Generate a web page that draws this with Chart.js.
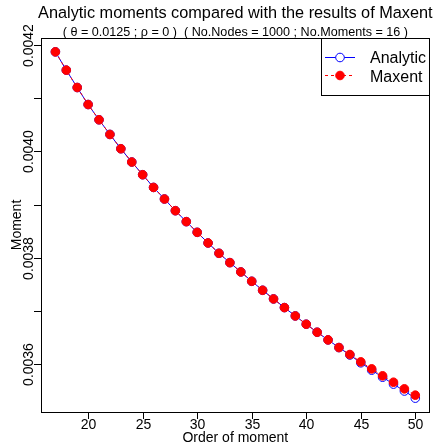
<!DOCTYPE html>
<html>
<head>
<meta charset="utf-8">
<script src="https://cdn.jsdelivr.net/npm/chart.js@4/dist/chart.umd.min.js"></script>
<style>
  html, body { margin: 0; padding: 0; background: #ffffff; }
  #wrap { width: 435px; height: 443px; }
</style>
</head>
<body>
<div id="wrap"><canvas id="c" width="435" height="443"></canvas></div>
<script>
// ---- data ----
const orders = [17,18,19,20,21,22,23,24,25,26,27,28,29,30,31,32,33,34,35,36,37,38,39,40,41,42,43,44,45,46,47,48,49,50];
const maxent = [0.0041874,0.0041530,0.0041203,0.0040883,0.0040596,0.0040320,0.0040051,0.0039801,0.0039562,0.0039323,0.0039105,0.0038885,
                0.0038679,0.0038478,0.0038278,0.0038083,0.0037908,0.0037733,0.0037557,0.0037388,0.0037225,0.0037062,0.0036905,0.0036749,
                0.0036598,0.0036454,0.0036310,0.0036179,0.0036041,0.0035909,0.0035778,0.0035658,0.0035533,0.0035414];
const analytic = [0.0041874,0.0041530,0.0041203,0.0040883,0.0040596,0.0040320,0.0040051,0.0039801,0.0039562,0.0039323,0.0039105,0.0038885,
                0.0038679,0.0038478,0.0038278,0.0038083,0.0037908,0.0037733,0.0037557,0.0037388,0.0037225,0.0037062,0.0036905,0.0036749,
                0.0036598,0.0036454,0.0036310,0.0036170,0.0036023,0.0035885,0.0035752,0.0035622,0.0035492,0.0035358];
const xTicks = [20,25,30,35,40,45,50];
const xTickLabels = ['20','25','30','35','40','45','50'];
const yTicks = [0.0036,0.0037,0.0038,0.0039,0.0040,0.0041,0.0042];
const yTickLabels = ['0.0036','','0.0038','','0.0040','','0.0042'];
const seriesNames = ['Analytic','Maxent'];
const mainTitle = 'Analytic moments compared with the results of Maxent';
const subTitle = '( \u03B8 = 0.0125 ; \u03C1 = 0 )  ( No.Nodes = 1000 ; No.Moments = 16 )';
const xTitle = 'Order of moment';
const yTitle = 'Moment';

// R-style 4% axis extension
function rRange(vals) {
  const lo = Math.min(...vals), hi = Math.max(...vals);
  const e = (hi - lo) * 0.04;
  return [lo - e, hi + e];
}
const xr = rRange(orders);
const yr = rRange(maxent.concat(analytic));

const FONT = '"Liberation Sans", Arial, Helvetica, sans-serif';

const rDecor = {
  id: 'rDecor',
  afterDatasetsDraw(chart) {
    const ctx = chart.ctx;
    const a = chart.chartArea;
    const xs = chart.scales.x, ys = chart.scales.y;
    ctx.save();
    ctx.strokeStyle = '#000';
    ctx.fillStyle = '#000';
    ctx.lineWidth = 1;
    // box
    ctx.strokeRect(Math.round(a.left) + 0.5, Math.round(a.top) + 0.5,
                   Math.round(a.right - a.left) - 1, Math.round(a.bottom - a.top));
    // x ticks
    ctx.font = '14px ' + FONT;
    ctx.textAlign = 'center';
    ctx.textBaseline = 'alphabetic';
    xTicks.forEach((v, i) => {
      const px = Math.round(xs.getPixelForValue(v)) + 0.5;
      ctx.beginPath();
      ctx.moveTo(px, a.bottom);
      ctx.lineTo(px, a.bottom + 7);
      ctx.stroke();
      ctx.fillText(xTickLabels[i], px, a.bottom + 17);
    });
    // y ticks
    yTicks.forEach((v, i) => {
      const py = Math.round(ys.getPixelForValue(v)) + 0.5;
      ctx.beginPath();
      ctx.moveTo(a.left, py);
      ctx.lineTo(a.left - 7, py);
      ctx.stroke();
      if (yTickLabels[i]) {
        ctx.save();
        ctx.translate(a.left - 8, py);
        ctx.rotate(-Math.PI / 2);
        ctx.fillText(yTickLabels[i], 0, 0);
        ctx.restore();
      }
    });
    // axis titles
    const cx = (a.left + a.right) / 2;
    const cy = (a.top + a.bottom) / 2;
    ctx.fillText(xTitle, cx, 442);
    ctx.save();
    ctx.translate(21, cy);
    ctx.rotate(-Math.PI / 2);
    ctx.fillText(yTitle, 0, 0);
    ctx.restore();
    // titles
    ctx.font = '16.3px ' + FONT;
    ctx.fillText(mainTitle, cx, 18);
    ctx.font = '12.6px ' + FONT;
    ctx.fillText(subTitle, cx, 36);
    // legend
    const lx0 = 321, ly0 = Math.round(a.top) + 0.5, lx1 = Math.round(a.right) - 0.5, ly1 = 95.5;
    ctx.fillStyle = '#fff';
    ctx.fillRect(lx0, ly0, lx1 - lx0, ly1 - ly0);
    ctx.strokeStyle = '#000';
    ctx.strokeRect(lx0 + 0.5, ly0, lx1 - lx0 - 0.5, ly1 - ly0);
    const rows = [57, 75];
    // Analytic
    ctx.strokeStyle = 'blue';
    ctx.beginPath(); ctx.moveTo(325, rows[0] + 0.5); ctx.lineTo(355, rows[0] + 0.5); ctx.stroke();
    ctx.fillStyle = '#fff';
    ctx.beginPath(); ctx.arc(340, rows[0] + 0.5, 4.3, 0, Math.PI * 2); ctx.fill(); ctx.stroke();
    // Maxent
    ctx.strokeStyle = 'red';
    ctx.setLineDash([3, 3]);
    ctx.beginPath(); ctx.moveTo(325, rows[1] + 0.5); ctx.lineTo(355, rows[1] + 0.5); ctx.stroke();
    ctx.setLineDash([]);
    ctx.fillStyle = 'red';
    ctx.beginPath(); ctx.arc(340, rows[1] + 0.5, 4.3, 0, Math.PI * 2); ctx.fill(); ctx.stroke();
    ctx.fillStyle = '#000';
    ctx.font = '16px ' + FONT;
    ctx.textAlign = 'left';
    ctx.fillText(seriesNames[0], 370, rows[0] + 6);
    ctx.fillText(seriesNames[1], 370, rows[1] + 6.5);
    ctx.restore();
  }
};

new Chart(document.getElementById('c'), {
  type: 'line',
  data: {
    datasets: [
      {
        label: seriesNames[0],
        data: orders.map((o, i) => ({ x: o, y: analytic[i] })),
        borderColor: 'blue',
        borderWidth: 1,
        pointRadius: 4.3,
        pointBorderWidth: 1,
        pointBorderColor: 'blue',
        pointBackgroundColor: 'rgba(255,255,255,0)',
        tension: 0,
        order: 2
      },
      {
        label: seriesNames[1],
        data: orders.map((o, i) => ({ x: o, y: maxent[i] })),
        borderColor: 'red',
        borderWidth: 1,
        borderDash: [3, 3],
        pointRadius: 4.3,
        pointBorderWidth: 1,
        pointBorderColor: 'red',
        pointBackgroundColor: 'red',
        tension: 0,
        order: 1
      }
    ]
  },
  options: {
    responsive: false,
    animation: false,
    events: [],
    layout: { padding: { left: 41, right: 2, top: 38, bottom: 31 } },
    plugins: { legend: { display: false }, title: { display: false }, tooltip: { enabled: false } },
    scales: {
      x: { type: 'linear', min: xr[0], max: xr[1], display: false },
      y: { type: 'linear', min: yr[0], max: yr[1], display: false }
    },
    elements: { line: { fill: false } }
  },
  plugins: [rDecor]
});
</script>
</body>
</html>
